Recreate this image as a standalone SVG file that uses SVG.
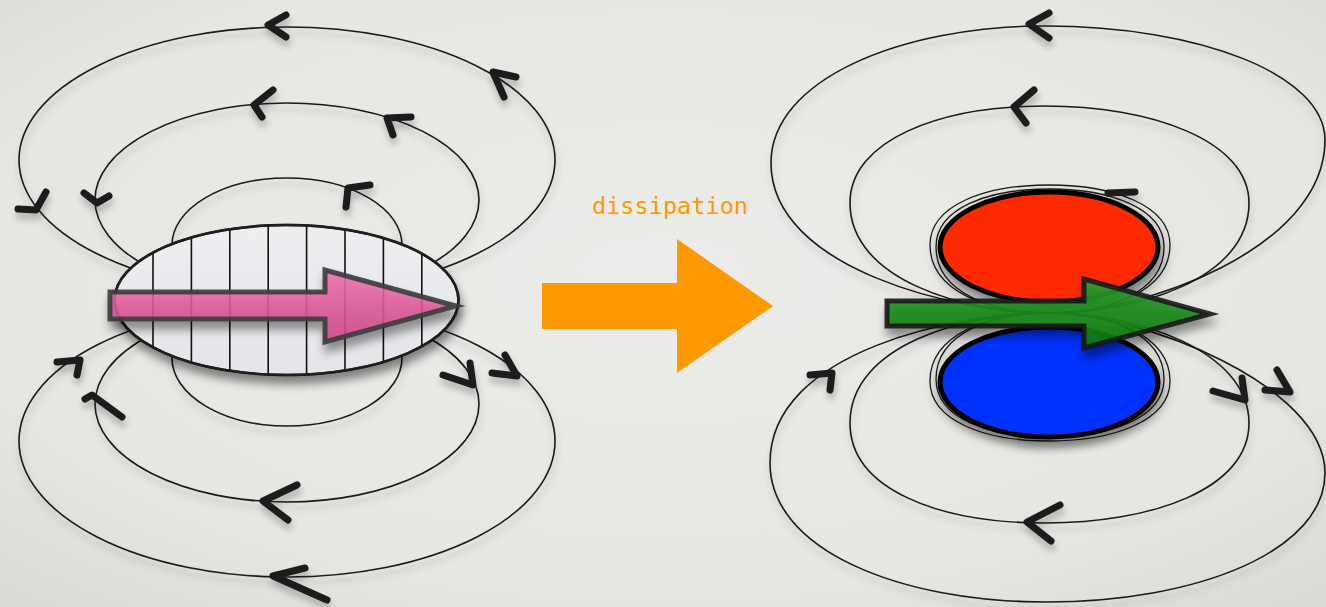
<svg xmlns="http://www.w3.org/2000/svg" width="1326" height="607" viewBox="0 0 1326 607">
  <style>
    .fl { fill: none; stroke: #1a1a1a; stroke-width: 1.6; }
    .fl-thin { fill: none; stroke: #1a1a1a; stroke-width: 1.3; }
    .chev { fill: none; stroke: #1a1a1a; stroke-width: 7; stroke-linecap: round; stroke-linejoin: round; }
    .stripe { stroke: #111; stroke-width: 1.6; }
    .label { font-family: "DejaVu Sans Mono", "Liberation Mono", monospace; font-size: 23px; fill: #ff9900; }
  </style>
  <defs>
    <radialGradient id="bg" cx="50%" cy="45%" r="75%">
      <stop offset="0" stop-color="#ececea"/>
      <stop offset="0.7" stop-color="#e6e6e2"/>
      <stop offset="1" stop-color="#d8d8d4"/>
    </radialGradient>
    <linearGradient id="magnetFill" x1="0" y1="0" x2="0" y2="1">
      <stop offset="0" stop-color="#eceef0"/>
      <stop offset="1" stop-color="#e4e5e8"/>
    </linearGradient>
    <linearGradient id="pinkFill" x1="0" y1="0" x2="0" y2="1">
      <stop offset="0" stop-color="#f070b0"/>
      <stop offset="1" stop-color="#d2488a"/>
    </linearGradient>
    <linearGradient id="greenFill" x1="0" y1="0" x2="0" y2="1">
      <stop offset="0" stop-color="#2c9c2c"/>
      <stop offset="1" stop-color="#087808"/>
    </linearGradient>
    <clipPath id="magnetClip">
      <ellipse cx="286.5" cy="300" rx="172" ry="75"/>
    </clipPath>
    <filter id="shadow" x="-20%" y="-20%" width="140%" height="160%">
      <feGaussianBlur in="SourceAlpha" stdDeviation="5"/>
      <feOffset dx="2" dy="8" result="blur"/>
      <feFlood flood-color="#000" flood-opacity="0.45"/>
      <feComposite in2="blur" operator="in"/>
      <feMerge><feMergeNode/><feMergeNode in="SourceGraphic"/></feMerge>
    </filter>
    <filter id="softShadow" x="-10%" y="-10%" width="120%" height="130%">
      <feGaussianBlur in="SourceAlpha" stdDeviation="3.5"/>
      <feOffset dx="1" dy="6" result="blur"/>
      <feFlood flood-color="#000" flood-opacity="0.25"/>
      <feComposite in2="blur" operator="in"/>
      <feMerge><feMergeNode/><feMergeNode in="SourceGraphic"/></feMerge>
    </filter>
  </defs>

  <rect width="1326" height="607" fill="url(#bg)"/>

  <!-- field lines of the striped magnet (left) -->
  <g id="connectors-left" filter="url(#softShadow)">
    <ellipse class="fl" cx="287" cy="160" rx="268" ry="133"/>
    <ellipse class="fl" cx="287" cy="200" rx="192" ry="97"/>
    <ellipse class="fl" cx="287" cy="245" rx="115" ry="67"/>
    <ellipse class="fl" cx="287" cy="441" rx="268" ry="136"/>
    <ellipse class="fl" cx="287" cy="404" rx="192" ry="98"/>
    <ellipse class="fl" cx="287" cy="358" rx="115" ry="68"/>
    <!-- direction marks, upper loops -->
    <path class="chev" d="M286,15 L268,25 L286,37"/>
    <path class="chev" d="M516,77 L493,72 L504,97"/>
    <path class="chev" d="M18,209 L36,210 L46,192"/>
    <path class="chev" d="M273,90 L254,105 L262,117"/>
    <path class="chev" d="M411,117 L387,118 L393,135"/>
    <path class="chev" d="M84,193 L97,203 L109,196"/>
    <path class="chev" d="M370,185 L348,188 L346,207"/>
    <!-- direction marks, lower loops -->
    <path class="chev" d="M305,568 L273,576 L327,600"/>
    <path class="chev" d="M57,362 L80,360 L77,375"/>
    <path class="chev" d="M297,485 L263,501 L288,520"/>
    <path class="chev" d="M85,399 L92,395 L122,417"/>
    <path class="chev" d="M443,375 L473,385 L470,363"/>
    <path class="chev" d="M492,373 L517,376 L505,355"/>
  </g>

  <!-- striped magnet with its moment -->
  <g id="magnet-left">
    <ellipse cx="286.5" cy="300" rx="172" ry="75" fill="url(#magnetFill)" stroke="#1e1e1e" stroke-width="2.5" filter="url(#shadow)"/>
    <g clip-path="url(#magnetClip)">
      <line class="stripe" x1="153" y1="220" x2="153" y2="380"/>
      <line class="stripe" x1="191.4" y1="220" x2="191.4" y2="380"/>
      <line class="stripe" x1="229.8" y1="220" x2="229.8" y2="380"/>
      <line class="stripe" x1="268.2" y1="220" x2="268.2" y2="380"/>
      <line class="stripe" x1="306.6" y1="220" x2="306.6" y2="380"/>
      <line class="stripe" x1="345" y1="220" x2="345" y2="380"/>
      <line class="stripe" x1="383.4" y1="220" x2="383.4" y2="380"/>
      <line class="stripe" x1="421.8" y1="220" x2="421.8" y2="380"/>
    </g>
    <ellipse cx="286.5" cy="300" rx="172" ry="75" fill="none" stroke="#1e1e1e" stroke-width="2.5"/>
  </g>
  <g id="moment-left" filter="url(#shadow)">
    <polygon points="110,292 325,292 325,270 456,306 325,342 325,319 110,319" fill="url(#pinkFill)" fill-opacity="0.85" stroke="#3c3c3c" stroke-opacity="0.9" stroke-width="5"/>
  </g>

  <!-- transition -->
  <g id="dissipation">
    <text class="label" x="592" y="214" textLength="156" lengthAdjust="spacingAndGlyphs">dissipation</text>
    <polygon points="542,283 677,283 677,239 773,306 677,373 677,329 542,329" fill="#ff9900"/>
  </g>

  <!-- field lines of the two-domain state (right) -->
  <g id="connectors-right" filter="url(#softShadow)">
    <path class="fl" d="M1049,313 C960,313 771,270 771,163 C771,80 900,26 1045,26 C1200,26 1325,75 1325,140 C1325,250 1140,313 1049,313"/>
    <path class="fl" d="M1049,313 C965,313 850,280 850,203 C850,140 940,106 1045,106 C1150,106 1249,140 1249,203 C1249,280 1135,313 1049,313"/>
    <path class="fl-thin" d="M1049,313 C990,313 930,292 930,245 C930,205 985,185 1049,185 C1113,185 1170,205 1170,245 C1170,292 1108,313 1049,313"/>
    <path class="fl-thin" d="M1049,313 C995,313 936,294 936,247 C936,208 988,189 1049,189 C1110,189 1164,208 1164,247 C1164,294 1104,313 1049,313"/>
    <path class="fl" d="M1049,313 C960,313 770,350 770,463 C770,550 900,602 1045,602 C1200,602 1325,550 1325,473 C1325,385 1140,313 1049,313"/>
    <path class="fl" d="M1049,313 C965,313 850,345 850,423 C850,490 940,523 1045,523 C1150,523 1249,490 1249,423 C1249,350 1135,313 1049,313"/>
    <path class="fl-thin" d="M1049,313 C990,313 930,334 930,381 C930,421 985,441 1049,441 C1113,441 1170,421 1170,381 C1170,334 1108,313 1049,313"/>
    <path class="fl-thin" d="M1049,313 C995,313 936,332 936,379 C936,418 988,437 1049,437 C1110,437 1164,418 1164,379 C1164,332 1104,313 1049,313"/>
    <!-- direction marks -->
    <path class="chev" d="M1049,13 L1029,24 L1049,38"/>
    <path class="chev" d="M1034,90 L1014,107 L1026,123"/>
    <path class="chev" d="M1108,193 L1135,192"/>
    <path class="chev" d="M1060,505 L1027,522 L1051,541"/>
    <path class="chev" d="M810,375 L832,373 L830,390"/>
    <path class="chev" d="M1213,391 L1245,400 L1242,378"/>
    <path class="chev" d="M1265,390 L1290,392 L1277,370"/>
  </g>

  <g id="domain-up" filter="url(#shadow)">
    <ellipse cx="1049" cy="247" rx="109" ry="55" fill="#ff2a00" stroke="#000" stroke-width="5"/>
  </g>
  <g id="domain-down" filter="url(#shadow)">
    <ellipse cx="1049" cy="382" rx="109" ry="55" fill="#0533ff" stroke="#000" stroke-width="5"/>
  </g>
  <g id="moment-right" filter="url(#shadow)">
    <polygon points="887,301 1084,301 1084,279 1210,314 1084,348 1084,326 887,326" fill="url(#greenFill)" fill-opacity="0.9" stroke="#1a1a1a" stroke-opacity="0.9" stroke-width="5"/>
  </g>
</svg>
